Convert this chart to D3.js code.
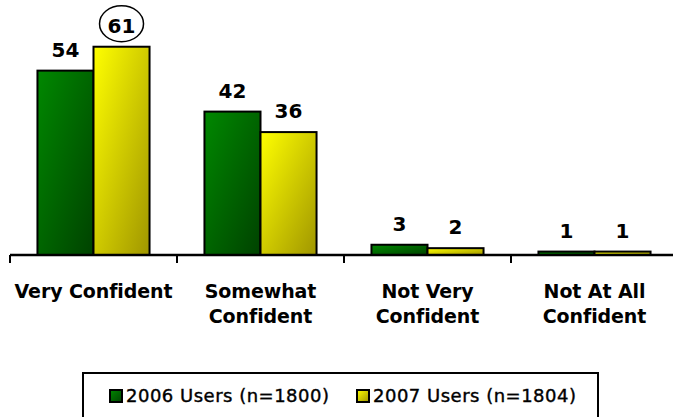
<!DOCTYPE html>
<html>
<head>
<meta charset="utf-8">
<script src="https://cdn.jsdelivr.net/npm/d3@7"></script>
<style>
  body { margin: 0; background: #fff; }
  svg { display: block; }
</style>
</head>
<body>
<svg id="chart" width="673" height="417"></svg>
<script>
const categories = [['Very Confident'], ['Somewhat', 'Confident'], ['Not Very', 'Confident'], ['Not At All', 'Confident']];
const seriesNames = ['2006 Users (n=1800)', '2007 Users (n=1804)'];
const values2006 = [54, 42, 3, 1];
const values2007 = [61, 36, 2, 1];
const highlight = { cat: 0, series: 1 }; // the circled 61

const svg = d3.select('#chart');
const W = 673, H = 417;
const baseY = 255;

// gradients like the old excel fill
const defs = svg.append('defs');
function grad(id, c1, c2) {
    const g = defs.append('linearGradient').attr('id', id)
        .attr('x1', 0).attr('y1', 0).attr('x2', 1).attr('y2', 1);
    g.append('stop').attr('offset', '0%').attr('stop-color', c1);
    g.append('stop').attr('offset', '100%').attr('stop-color', c2);
}
grad('g2006', '#008800', '#004200');
grad('g2007', '#ffff00', '#a09600');
const fills = ['url(#g2006)', 'url(#g2007)'];

const x0 = d3.scaleBand().domain(d3.range(categories.length)).range([10, 678]).padding(0);
const x1 = d3.scaleBand().domain([0, 1]).range([0, x0.bandwidth()]).paddingInner(0).paddingOuter(0.49);
const y = d3.scaleLinear().domain([0, 70]).range([baseY, 16]);

const rows = [];
categories.forEach((c, i) => {
    rows.push({ cat: i, s: 0, v: values2006[i] });
    rows.push({ cat: i, s: 1, v: values2007[i] });
});

const g = svg.append('g');
g.selectAll('rect.bar')
    .data(rows)
    .enter().append('rect')
    .attr('class', 'bar')
    .attr('x', d => x0(d.cat) + x1(d.s))
    .attr('y', d => y(d.v))
    .attr('width', x1.bandwidth())
    .attr('height', d => baseY - y(d.v))
    .attr('fill', d => fills[d.s])
    .attr('stroke', '#000')
    .attr('stroke-width', 2);

// value labels
g.selectAll('text.val')
    .data(rows)
    .enter().append('text')
    .attr('class', 'val')
    .attr('x', d => x0(d.cat) + x1(d.s) + x1.bandwidth() / 2)
    .attr('y', d => y(d.v) - 14)
    .attr('text-anchor', 'middle')
    .attr('font-family', 'DejaVu Sans')
    .attr('font-weight', 'bold')
    .attr('font-size', 20)
    .text(d => d.v);

// circle round the highlighted value
const hv = highlight.series === 0 ? values2006[highlight.cat] : values2007[highlight.cat];
g.append('ellipse')
    .attr('cx', x0(highlight.cat) + x1(highlight.series) + x1.bandwidth() / 2)
    .attr('cy', y(hv) - 23)
    .attr('rx', 22)
    .attr('ry', 18)
    .attr('fill', 'none')
    .attr('stroke', '#000')
    .attr('stroke-width', 1.5);

// x axis
const axis = svg.append('g').attr('transform', 'translate(0,' + baseY + ')');
axis.append('line').attr('x1', 10).attr('x2', W).attr('y1', 0).attr('y2', 0)
    .attr('stroke', '#000').attr('stroke-width', 2.5);
axis.selectAll('line.tick')
    .data(d3.range(categories.length + 1))
    .enter().append('line')
    .attr('class', 'tick')
    .attr('x1', i => i < categories.length ? x0(i) : x0(i - 1) + x0.bandwidth())
    .attr('x2', i => i < categories.length ? x0(i) : x0(i - 1) + x0.bandwidth())
    .attr('y1', 0).attr('y2', 8)
    .attr('stroke', '#000').attr('stroke-width', 2);

const labels = svg.append('g').selectAll('text.cat')
    .data(categories)
    .enter().append('text')
    .attr('class', 'cat')
    .attr('text-anchor', 'middle')
    .attr('font-family', 'DejaVu Sans')
    .attr('font-weight', 'bold')
    .attr('font-size', 19)
    .attr('letter-spacing', -0.1);
labels.each(function (lines, i) {
    const t = d3.select(this);
    lines.forEach((ln, k) => {
        t.append('tspan')
            .attr('x', x0(i) + x0.bandwidth() / 2)
            .attr('y', 298 + k * 25)
            .text(ln);
    });
});

// legend
const leg = svg.append('g');
leg.append('rect').attr('x', 83).attr('y', 373).attr('width', 515).attr('height', 60)
    .attr('fill', '#fff').attr('stroke', '#000').attr('stroke-width', 2);
const legX = [110, 357];
seriesNames.forEach((name, i) => {
    leg.append('rect').attr('x', legX[i]).attr('y', 390).attr('width', 12).attr('height', 12)
        .attr('fill', fills[i]).attr('stroke', '#000').attr('stroke-width', 2);
    leg.append('text').attr('x', legX[i] + 16).attr('y', 402)
        .attr('font-family', 'DejaVu Sans')
        .attr('font-size', 18)
        .attr('letter-spacing', 0.5)
        .attr('stroke', '#000')
        .attr('stroke-width', 0.4)
        .text(name);
});
</script>
</body>
</html>
